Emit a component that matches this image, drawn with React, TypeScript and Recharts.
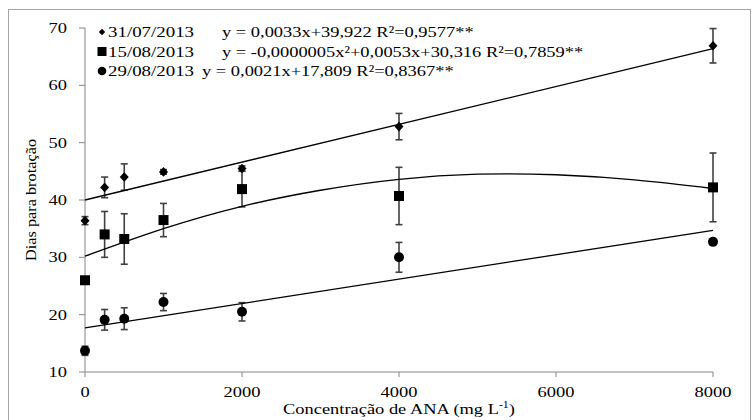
import React from "react";
import { ComposedChart, Scatter, XAxis, YAxis, ErrorBar } from "recharts";

// doses de ANA (mg L-1)
const doses = [0, 250, 500, 1000, 2000, 4000, 8000];

const dias3107 = [36.4, 42.2, 44.0, 44.9, 45.5, 52.8, 66.9];
const erro3107 = [0.7, 1.8, 2.3, 0.4, 0.45, 2.3, 3.0];
const dias1508 = [26.0, 34.0, 33.2, 36.5, 41.9, 40.7, 42.2];
const erro1508 = [0.5, 4.0, 4.4, 2.9, 3.1, 5.0, 6.0];
const dias2908 = [13.7, 19.1, 19.3, 22.2, 20.5, 30.0, 32.7];
const erro2908 = [0.8, 1.8, 1.9, 1.5, 1.6, 2.6, 0.4];

// trend lines
const retaX = [0, 8000];
const reta3107 = [40.0, 66.4];
const reta2908 = [17.7, 34.7];
const curvaX = [0, 1000, 2000, 3000, 4000, 5000, 6000, 7000, 8000];
const curva1508 = [30.2, 35.0, 38.9, 41.7, 43.6, 44.5, 44.4, 43.5, 42.0];

const xTicks = [0, 2000, 4000, 6000, 8000];
const yTicks = [10, 20, 30, 40, 50, 60, 70];

const legendDates = ["31/07/2013", "15/08/2013", "29/08/2013"];
const legendEqs = [
  "y = 0,0033x+39,922 R²=0,9577**",
  "y = -0,0000005x²+0,0053x+30,316 R²=0,7859**",
  "y = 0,0021x+17,809 R²=0,8367**",
];

const FONT = "Liberation Serif";
const STRETCH = 1.19;
const AXIS = "#868686";
const txt = { fontFamily: FONT, fontSize: 15.5 };

const pts = (ys: number[], errs: number[]) =>
  doses.map((x, i) => ({ x, y: ys[i], err: errs[i] }));
const trend = (xs: number[], ys: number[]) => xs.map((x, i) => ({ x, y: ys[i] }));

const Diamond = (p: any) => (
  <polygon
    points={`${p.cx},${p.cy - 4.8} ${p.cx + 4.5},${p.cy} ${p.cx},${p.cy + 4.8} ${p.cx - 4.5},${p.cy}`}
    fill="#000"
  />
);
const Square = (p: any) => (
  <rect x={p.cx - 5} y={p.cy - 5} width={10} height={10} fill="#000" />
);
const Dot = (p: any) => <circle cx={p.cx} cy={p.cy} r={5} fill="#000" />;
const NoShape = () => <g />;

function XTick(props: any) {
  const { x, y, payload } = props;
  return (
    <text
      transform={`translate(${x},${y + 19.5}) scale(${STRETCH},1)`}
      textAnchor="middle"
      style={txt}
      fill="#000"
    >
      {payload.value}
    </text>
  );
}

function YTick(props: any) {
  const { x, y, payload } = props;
  return (
    <text
      transform={`translate(${x - 12},${y + 5}) scale(${STRETCH},1)`}
      textAnchor="end"
      style={txt}
      fill="#000"
    >
      {payload.value}
    </text>
  );
}

function Legend() {
  const rows = [32, 51.5, 71];
  const eqX = [222, 222, 202];
  return (
    <svg
      width={753}
      height={420}
      style={{ position: "absolute", left: 0, top: 0, pointerEvents: "none" }}
    >
      <polygon points="102,28.8 105.2,32 102,35.2 98.8,32" fill="#000" />
      <rect x={97.5} y={47} width={9} height={9} fill="#000" />
      <circle cx={102} cy={71} r={4.3} fill="#000" />
      {legendDates.map((d, i) => (
        <text
          key={d}
          transform={`translate(108,${rows[i] + 5}) scale(1.22,1)`}
          style={txt}
          fill="#000"
        >
          {d}
        </text>
      ))}
      {legendEqs.map((e, i) => (
        <text
          key={e}
          transform={`translate(${eqX[i]},${rows[i] + 5}) scale(${STRETCH},1)`}
          style={txt}
          fill="#000"
        >
          {e}
        </text>
      ))}
      <text
        transform="translate(36,200) rotate(-90) scale(1,0.85)"
        textAnchor="middle"
        style={{ fontFamily: FONT, fontSize: 16.3 }}
        fill="#000"
      >
        Dias para brotação
      </text>
      <text
        transform={`translate(399,414) scale(${STRETCH},1)`}
        textAnchor="middle"
        style={txt}
        fill="#000"
      >
        Concentração de ANA (mg L
        <tspan dy={-6} fontSize={10}>-1</tspan>
        <tspan dy={6}>)</tspan>
      </text>
    </svg>
  );
}

export default function App() {
  return (
    <div
      style={{
        position: "fixed",
        left: 0,
        top: 0,
        width: 753,
        height: 420,
        overflow: "hidden",
        background: "#fff",
      }}
    >
      <div
        style={{
          position: "absolute",
          left: 8,
          top: 9,
          width: 741,
          height: 440,
          border: "1px solid #a6a6a6",
        }}
      />
      <div style={{ position: "absolute", left: 0, top: 0 }}>
        <ComposedChart
          width={753}
          height={420}
          margin={{ top: 28, right: 40, bottom: 0, left: 25 }}
        >
          <XAxis
            type="number"
            dataKey="x"
            domain={[0, 8000]}
            ticks={xTicks}
            interval={0}
            height={48}
            tickSize={5}
            tickMargin={0}
            axisLine={{ stroke: AXIS }}
            tickLine={{ stroke: AXIS }}
            tick={<XTick />}
          />
          <YAxis
            type="number"
            dataKey="y"
            domain={[10, 70]}
            ticks={yTicks}
            interval={0}
            width={60}
            tickSize={6}
            tickMargin={0}
            allowDataOverflow
            axisLine={{ stroke: AXIS }}
            tickLine={{ stroke: AXIS }}
            tick={<YTick />}
          />
          <Scatter
            data={trend(retaX, reta3107)}
            line={{ stroke: "#000", strokeWidth: 1.3 }}
            shape={NoShape}
            isAnimationActive={false}
          />
          <Scatter
            data={trend(curvaX, curva1508)}
            line={{ stroke: "#000", strokeWidth: 1.3 }}
            lineJointType="natural"
            shape={NoShape}
            isAnimationActive={false}
          />
          <Scatter
            data={trend(retaX, reta2908)}
            line={{ stroke: "#000", strokeWidth: 1.3 }}
            shape={NoShape}
            isAnimationActive={false}
          />
          <Scatter data={pts(dias3107, erro3107)} shape={Diamond} isAnimationActive={false}>
            <ErrorBar dataKey="err" direction="y" width={3.5} stroke="#404040" strokeWidth={1.6} />
          </Scatter>
          <Scatter data={pts(dias1508, erro1508)} shape={Square} isAnimationActive={false}>
            <ErrorBar dataKey="err" direction="y" width={3.5} stroke="#404040" strokeWidth={1.6} />
          </Scatter>
          <Scatter data={pts(dias2908, erro2908)} shape={Dot} isAnimationActive={false}>
            <ErrorBar dataKey="err" direction="y" width={3.5} stroke="#404040" strokeWidth={1.6} />
          </Scatter>
        </ComposedChart>
      </div>
      <Legend />
    </div>
  );
}
